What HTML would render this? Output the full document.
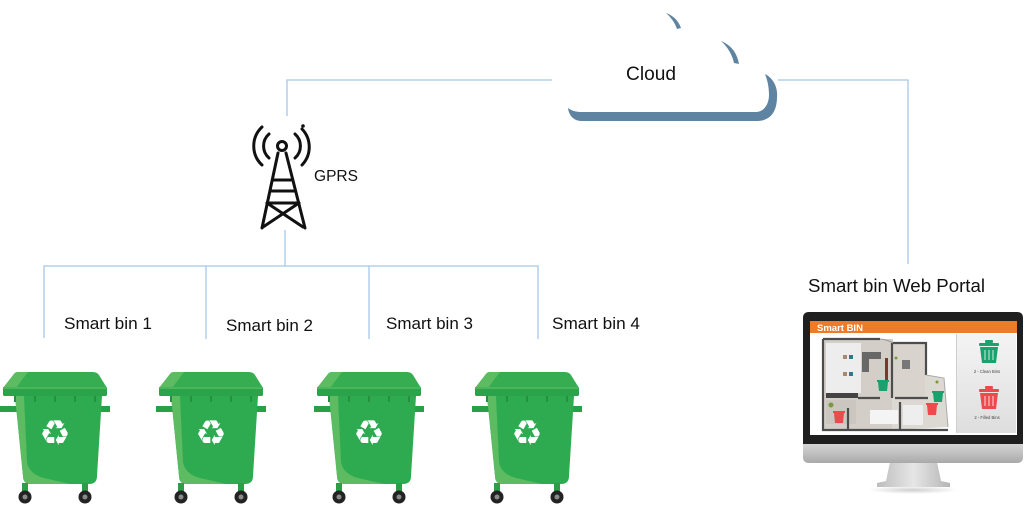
<!DOCTYPE html>
<html><head><meta charset="utf-8">
<style>
html,body{margin:0;padding:0;background:#fff;}
svg{display:block;}
text{font-family:"Liberation Sans","DejaVu Sans",sans-serif;}
</style></head>
<body>
<svg width="1024" height="505" viewBox="0 0 1024 505" xmlns="http://www.w3.org/2000/svg">
<defs>
  <linearGradient id="chin" x1="0" y1="0" x2="0" y2="1">
    <stop offset="0" stop-color="#e4e4e4"/><stop offset="1" stop-color="#a9a9a9"/>
  </linearGradient>
  <linearGradient id="neck" x1="0" y1="0" x2="1" y2="0">
    <stop offset="0" stop-color="#bdbdbd"/><stop offset="0.5" stop-color="#e6e6e6"/><stop offset="1" stop-color="#b5b5b5"/>
  </linearGradient>
  <linearGradient id="pane" x1="0" y1="0" x2="0" y2="1">
    <stop offset="0" stop-color="#f4f4f4"/><stop offset="1" stop-color="#dedede"/>
  </linearGradient>
  <radialGradient id="shad" cx="0.5" cy="0.5" r="0.5">
    <stop offset="0" stop-color="#cfcfcf"/><stop offset="1" stop-color="#ffffff"/>
  </radialGradient>
  <g id="bin">
    <rect x="0" y="406" width="17" height="6" fill="#27a046"/>
    <rect x="99" y="406" width="11" height="6" fill="#27a046"/>
    <path d="M15 396 L102 396 L97 476 Q97 484 89 484 L31 484 Q23 484 23 476 Z" fill="#2eab50"/>
    <path d="M15 396 L24 396 L27 462 Q29 474 44 478 L70 484 L31 484 Q23 484 23 476 Z" fill="#5dbb62"/>
    <rect x="14" y="396" width="2" height="6" fill="#249040"/>
    <rect x="34" y="396" width="2" height="6" fill="#249040"/>
    <rect x="54" y="396" width="2" height="6" fill="#249040"/>
    <rect x="74" y="396" width="2" height="6" fill="#249040"/>
    <rect x="94" y="396" width="2" height="6" fill="#249040"/>
    <path d="M14 374 Q15 372 19 372 L93 372 Q97 372 99 375 L107 388 L3 388 Z" fill="#36ad51"/>
    <path d="M14 374 Q15 372 19 372 L28 372 L16 388 L3 388 Z" fill="#5dbb62"/>
    <rect x="3" y="387" width="104" height="9" rx="1.5" fill="#2ba34b"/>
    <rect x="3" y="387" width="104" height="2" fill="#4cb55c"/>
    <rect x="22" y="483" width="6" height="9" fill="#2a9f48"/>
    <rect x="82" y="483" width="6" height="9" fill="#2a9f48"/>
    <circle cx="25" cy="497" r="6.5" fill="#232323"/>
    <circle cx="25" cy="497" r="2.5" fill="#8a8a8a"/>
    <circle cx="85" cy="497" r="6.5" fill="#232323"/>
    <circle cx="85" cy="497" r="2.5" fill="#8a8a8a"/>
  </g>
</defs>

<!-- connectors -->
<g fill="none" stroke="#a7c7e7" stroke-width="1.3">
  <path d="M287 116 V80 H552"/>
  <path d="M778 80 H908 V264"/>
  <path d="M285 230 V266"/>
  <path d="M44 338 V266 H538 V339"/>
  <path d="M206 266 V339"/>
  <path d="M369 266 V339"/>
</g>

<!-- cloud (white body on white background; only its shadow edges are visible) -->
<g fill="#5f84a1">
  <path d="M666 13 Q677 17 681 28 L677 29 Q674 20 666 13 Z"/>
  <path d="M721 41 Q736 47 739 64 L734 63 Q731 50 721 41 Z"/>
  <path d="M765 74 C773 78 778 87 777 97 C777 112 770 121 757 121 L582 121 C574 121 569 116 568 108 C572 111 576 112 582 112 L757 112 C765 111 769 103 769 95 C769 86 767 79 765 74 Z"/>
</g>
<text x="626" y="80" font-size="19" fill="#111" textLength="50" lengthAdjust="spacingAndGlyphs">Cloud</text>

<!-- tower -->
<g fill="none" stroke="#111" stroke-width="3" stroke-linecap="round" stroke-linejoin="round">
  <circle cx="282" cy="146" r="4.5"/>
  <path d="M269 134 A16 16 0 0 0 269 158"/>
  <path d="M262 127 A26 26 0 0 0 262 165"/>
  <path d="M295 134 A16 16 0 0 1 295 158"/>
  <path d="M302 129 A26 26 0 0 1 302 165"/>
  <path d="M278 153 L262 228"/>
  <path d="M286 153 L305 228"/>
  <path d="M273 180 H291"/>
  <path d="M270 191 H295"/>
  <path d="M267 203 H299"/>
  <path d="M267 203 L303 227"/>
  <path d="M299 203 L263 227"/>
</g>
<circle cx="303" cy="126" r="1.8" fill="#111"/>
<text x="314" y="181" font-size="16" fill="#111" textLength="44" lengthAdjust="spacingAndGlyphs">GPRS</text>

<!-- labels -->
<g font-size="17" fill="#111">
  <text x="64" y="329" textLength="88" lengthAdjust="spacingAndGlyphs">Smart bin 1</text>
  <text x="226" y="331" textLength="87" lengthAdjust="spacingAndGlyphs">Smart bin 2</text>
  <text x="386" y="329" textLength="87" lengthAdjust="spacingAndGlyphs">Smart bin 3</text>
  <text x="552" y="329" textLength="88" lengthAdjust="spacingAndGlyphs">Smart bin 4</text>
</g>
<text x="808" y="292" font-size="18.5" fill="#111" textLength="177" lengthAdjust="spacingAndGlyphs">Smart bin Web Portal</text>

<!-- bins -->
<use href="#bin"/>
<use href="#bin" transform="translate(156,0)"/>
<use href="#bin" transform="translate(314,0)"/>
<use href="#bin" transform="translate(472,0)"/>
<g font-family="'DejaVu Sans',sans-serif" font-size="35" fill="#fff" text-anchor="middle">
  <text x="55" y="445">♻</text>
  <text x="211" y="445">♻</text>
  <text x="369" y="445">♻</text>
  <text x="527" y="445">♻</text>
</g>

<!-- monitor -->
<ellipse cx="913" cy="490" rx="45" ry="4" fill="url(#shad)"/>
<path d="M890 462 L937 462 L941 481 L950 483 L950 487 L877 487 L877 483 L886 481 Z" fill="url(#neck)"/>
<path d="M803 438 H1023 V457 Q1023 463 1017 463 H809 Q803 463 803 457 Z" fill="url(#chin)"/>
<path d="M803 318 Q803 312 809 312 H1017 Q1023 312 1023 318 V444 H803 Z" fill="#1f1f1f"/>
<rect x="810" y="321" width="207" height="114" fill="#ffffff"/>
<rect x="810" y="321" width="207" height="12" fill="#ec7b2c"/>
<text x="817" y="331" font-size="9.5" font-weight="bold" fill="#fff">Smart BIN</text>
<!-- right pane -->
<rect x="957" y="334" width="59" height="99" fill="url(#pane)"/>
<line x1="956.5" y1="334" x2="956.5" y2="433" stroke="#cfcfcf"/>
<g fill="#17a26e">
  <rect x="979" y="343" width="20" height="3" rx="1"/>
  <rect x="985" y="340" width="8" height="3" rx="1"/>
  <path d="M980 347 H998 L996 363 H982 Z"/>
</g>
<g stroke="#fff" stroke-width="0.8">
  <line x1="985" y1="350" x2="985" y2="360"/><line x1="989" y1="350" x2="989" y2="360"/><line x1="993" y1="350" x2="993" y2="360"/>
</g>
<text x="987" y="373" font-size="4.2" fill="#444" text-anchor="middle">2 - Clean Bins</text>
<g fill="#ec4a4c">
  <rect x="979" y="389" width="20" height="3" rx="1"/>
  <rect x="985" y="386" width="8" height="3" rx="1"/>
  <path d="M980 393 H998 L996 409 H982 Z"/>
</g>
<g stroke="#fff" stroke-width="0.8">
  <line x1="985" y1="396" x2="985" y2="406"/><line x1="989" y1="396" x2="989" y2="406"/><line x1="993" y1="396" x2="993" y2="406"/>
</g>
<text x="987" y="419" font-size="4.2" fill="#444" text-anchor="middle">2 - Filled Bins</text>
<!-- floor plan -->
<rect x="823" y="339" width="70" height="91" fill="#d3cec8"/>
<rect x="892" y="343" width="34" height="56" fill="#d8d3cd"/>
<path d="M925 375 L944 378 L948 427 L892 430 L892 398 L925 398 Z" fill="#dcd8d2"/>
<path d="M880 339 Q888 340 893 343 L893 339 Z" fill="#d3cec8"/>
<rect x="826" y="343" width="35" height="50" fill="#ededed"/>
<rect x="826" y="393" width="32" height="5" fill="#444"/>
<rect x="862" y="352" width="19" height="7" fill="#686868"/>
<rect x="862" y="352" width="7" height="20" fill="#686868"/>
<rect x="843" y="355" width="4" height="4" fill="#a58a6d"/>
<rect x="849" y="355" width="4" height="4" fill="#2f7a8a"/>
<rect x="843" y="372" width="4" height="4" fill="#a58a6d"/>
<rect x="849" y="372" width="4" height="4" fill="#2f7a8a"/>
<rect x="902" y="360" width="8" height="9" fill="#777"/>
<rect x="870" y="410" width="28" height="14" fill="#f4f4f4"/>
<rect x="903" y="405" width="20" height="20" fill="#eeeeee"/>
<rect x="826" y="400" width="30" height="24" fill="#cbc6c0"/>
<g fill="none" stroke="#4d4d4d" stroke-width="2.2">
  <path d="M823 339 V430 H948"/>
  <path d="M823 339 H880"/>
  <path d="M892 343 V398"/>
  <path d="M892 343 H926 V375"/>
  <path d="M858 398 H880"/>
  <path d="M895 398 H928"/>
  <path d="M848 408 V430"/>
  <path d="M900 402 V430"/>
</g>
<path d="M880 339 Q888 340 893 343" fill="none" stroke="#9a9a9a" stroke-width="1"/>
<path d="M926 375 L944 378 L948 427" fill="none" stroke="#aaa" stroke-width="1"/>
<rect x="885" y="358" width="3" height="24" fill="#7a3a2a"/>
<g fill="#17a26e">
  <path d="M878 382 H888 L887 391 H879 Z"/><rect x="877" y="380" width="12" height="2"/>
  <path d="M933 393 H943 L942 402 H934 Z"/><rect x="932" y="391" width="12" height="2"/>
</g>
<g fill="#ec4a4c">
  <path d="M834 413 H844 L843 423 H835 Z"/><rect x="833" y="411" width="12" height="2"/>
  <path d="M927 405 H937 L936 415 H928 Z"/><rect x="926" y="403" width="12" height="2"/>
</g>
<circle cx="831" cy="405" r="2.5" fill="#7a9a3a"/>
<circle cx="896" cy="358" r="1.5" fill="#7a9a3a"/>
<circle cx="937" cy="382" r="1.5" fill="#7a9a3a"/>
</svg>
</body></html>
